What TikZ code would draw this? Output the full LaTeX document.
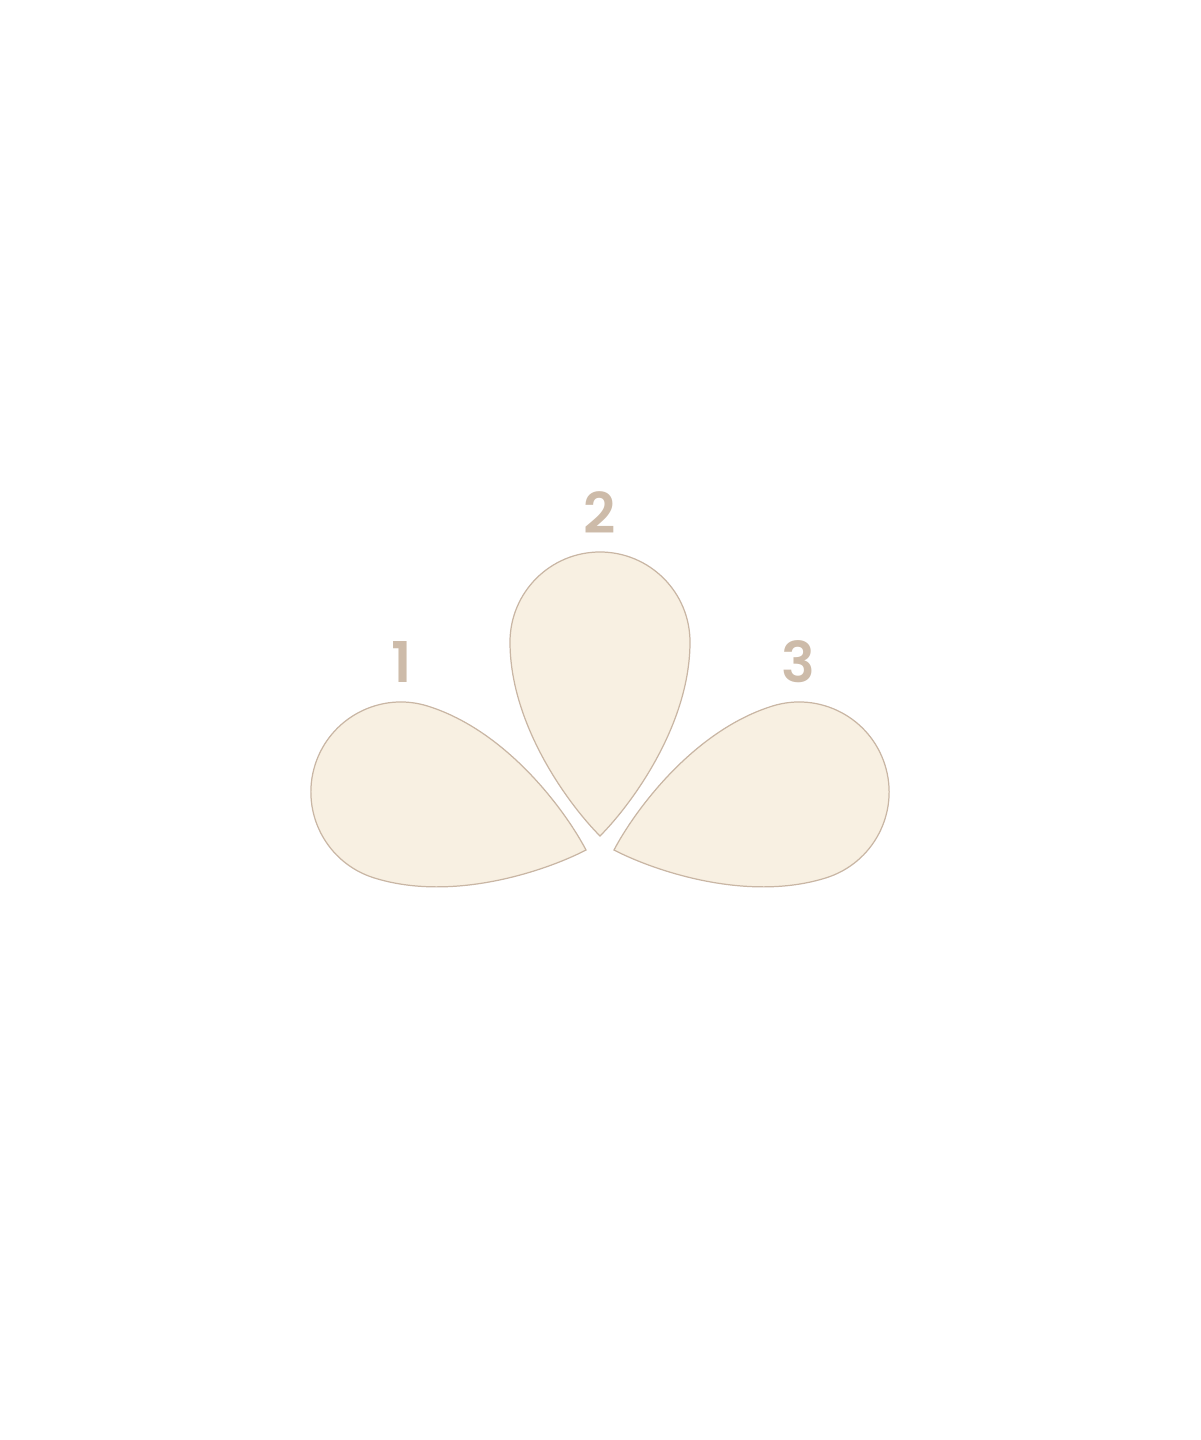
\documentclass[tikz,border=0pt]{standalone}
\usepackage{fontspec}
\setmainfont{Poppins}[BoldFont={Poppins SemiBold}]
\definecolor{petalfill}{HTML}{F8F0E2}
\definecolor{petaldraw}{HTML}{C9B6A4}
\definecolor{numcolor}{HTML}{CDBBA9}
\def\PetalAngle{72.6}
\def\Radius{0.9}
\def\Reach{1.94}
\def\TipX{6.00}
\def\TipY{6.04}
\def\SideTipX{0.14}
\def\SideTipY{0.14}

\tikzset{
  petal/.style={fill=petalfill, draw=petaldraw, line width=0.35pt},
  number/.style={text=numcolor, font=\fontsize{16}{19}\selectfont\bfseries}
}

\begin{document}
\begin{tikzpicture}
\useasboundingbox (0,0) rectangle (12,14.4);

% middle petal
\begin{scope}[shift={(\TipX, \TipY)}]
\filldraw[petal] (0, 0) .. controls (0.3, 0.3) and (\Radius, 1.1) .. (\Radius, \Reach)
  arc (0:180:\Radius) .. controls (-\Radius, 1.1) and (-0.3, 0.3) .. cycle;
\end{scope}

% left petal
\begin{scope}[shift={(\TipX - \SideTipX, \TipY - \SideTipY)}, rotate=\PetalAngle]
\filldraw[petal] (0, 0) .. controls (0.3, 0.3) and (\Radius, 1.1) .. (\Radius, \Reach)
  arc (0:180:\Radius) .. controls (-\Radius, 1.1) and (-0.3, 0.3) .. cycle;
\end{scope}

% right petal
\begin{scope}[shift={(\TipX + \SideTipX, \TipY - \SideTipY)}, rotate=-\PetalAngle]
\filldraw[petal] (0, 0) .. controls (0.3, 0.3) and (\Radius, 1.1) .. (\Radius, \Reach)
  arc (0:180:\Radius) .. controls (-\Radius, 1.1) and (-0.3, 0.3) .. cycle;
\end{scope}

\node[number] (one) at (4.02, 7.78) {1};
\node[number] (two) at (6.00, 9.27) {2};
\node[number] (three) at (7.98, 7.78) {3};
\end{tikzpicture}
\end{document}
